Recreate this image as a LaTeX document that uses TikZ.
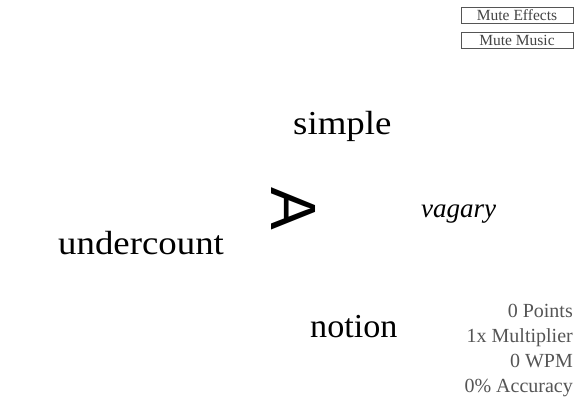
\documentclass[tikz,border=0pt]{standalone}
\usepackage{fontspec}
\setmainfont{Liberation Serif}
\newfontfamily\wordfont[FakeStretch=1.1]{Liberation Serif}
\newfontfamily\narrowwordfont[FakeStretch=1.02]{Liberation Serif}
\newfontfamily\uifont{Liberation Serif}
\newfontfamily\shipfont{Liberation Sans}
\definecolor{uigray}{HTML}{555555}
\definecolor{btngray}{HTML}{444444}
\begin{document}
\begin{tikzpicture}[x=1pt,y=-1pt,
  word/.style={inner sep=0pt, anchor=base west, font=\wordfont\fontsize{33.5}{36}\selectfont},
  stat/.style={inner sep=0pt, anchor=base east, text=uigray, font=\uifont\fontsize{20}{22}\selectfont},
  button/.style={draw=uigray, line width=0.9pt, minimum width=112pt, minimum height=16pt, inner sep=0pt, text=btngray, font=\uifont\fontsize{15.5}{16}\selectfont}]
\fill[white] (0,0) rectangle (583,418);
\useasboundingbox (0,0) rectangle (583,418);
% buttons
\node[button] (effects) at (517,15) {Mute Effects};
\node[button] (music) at (517,40.5) {Mute Music};
% words
\node[word] (simple) at (293,134) {simple};
\node[word] (undercount) at (58,254) {undercount};
\node[word, font=\narrowwordfont\fontsize{33.5}{36}\selectfont] (notion) at (310,337) {notion};
\node[inner sep=0pt, anchor=base west, font=\uifont\itshape\fontsize{27}{30}\selectfont] (vagary) at (421,217) {vagary};
% ship
\node[inner sep=0pt, rotate=-90, font=\shipfont\fontsize{64}{66}\selectfont] (ship) at (293.5,209) {A};
% stats
\node[stat] (points) at (573,317) {0 Points};
\node[stat] (mult) at (573,342) {1x Multiplier};
\node[stat] (wpm) at (573,367) {0 WPM};
\node[stat] (acc) at (573,392) {0\% Accuracy};
\end{tikzpicture}
\end{document}
